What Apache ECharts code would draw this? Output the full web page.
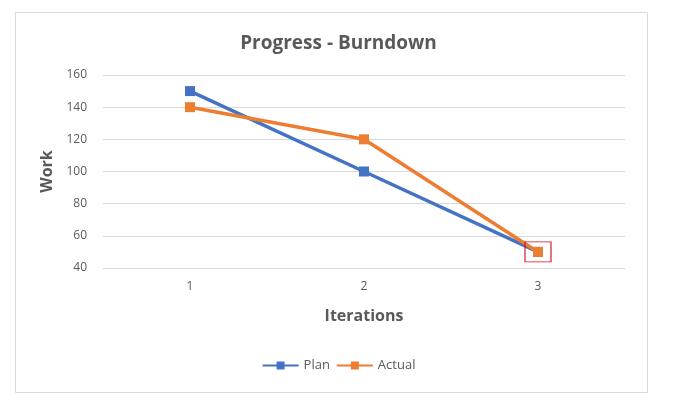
<!DOCTYPE html>
<html>
<head>
<meta charset="utf-8">
<script src="https://cdn.jsdelivr.net/npm/echarts@6/dist/echarts.min.js"></script>
<style>html,body{margin:0;padding:0;background:#fff}#c{width:677px;height:411px}</style>
</head>
<body>
<div id="c"></div>
<script>
var categories = ['1', '2', '3'];
var planValues = [150, 100, 50];
var actualValues = [140, 120, 50];
var highlightPoint = ['3', 50];

var chart = echarts.init(document.getElementById('c'));
var font = "'Open Sans', 'Noto Sans', sans-serif";
chart.setOption({
  animation: false,
  backgroundColor: '#fff',
  graphic: [{
    type: 'rect', left: 13, top: 10,
    shape: { width: 632, height: 380 },
    style: { fill: 'none', stroke: '#d9d9d9', lineWidth: 1 }
  }],
  title: {
    text: 'Progress - Burndown', left: 'center', top: 29,
    textStyle: { fontFamily: font, fontSize: 19, fontWeight: 'bold', color: '#595959' }
  },
  legend: {
    bottom: 34, left: 'center', itemWidth: 36, itemHeight: 10, itemGap: 6,
    textStyle: { fontFamily: font, fontSize: 13, color: '#595959' },
    data: ['Plan', 'Actual']
  },
  grid: { left: 103, right: 52, top: 75, bottom: 143 },
  xAxis: {
    type: 'category', data: categories,
    name: 'Iterations', nameLocation: 'middle', nameGap: 40,
    nameTextStyle: { fontFamily: font, fontSize: 16, fontWeight: 'bold', color: '#595959' },
    axisLine: { show: true, lineStyle: { color: '#d9d9d9' } },
    axisTick: { show: false },
    axisLabel: { fontFamily: font, fontSize: 12, color: '#595959', margin: 13 }
  },
  yAxis: {
    type: 'value', min: 40, max: 160, interval: 20,
    name: 'Work', nameLocation: 'middle', nameGap: 47,
    nameTextStyle: { fontFamily: font, fontSize: 16, fontWeight: 'bold', color: '#595959' },
    axisLine: { show: false }, axisTick: { show: false },
    splitLine: { lineStyle: { color: '#d9d9d9' } },
    axisLabel: { fontFamily: font, fontSize: 12, color: '#595959', margin: 16 }
  },
  series: [{
    name: 'Plan', type: 'line', data: planValues,
    symbol: 'rect', symbolSize: 10,
    lineStyle: { width: 3.5, color: '#4472C4' },
    itemStyle: { color: '#4472C4' }
  }, {
    name: 'Actual', type: 'line', data: actualValues,
    symbol: 'rect', symbolSize: 10,
    lineStyle: { width: 3.5, color: '#ED7D31' },
    itemStyle: { color: '#ED7D31' },
    markPoint: {
      silent: true,
      symbol: 'rect', symbolSize: [26, 20],
      label: { show: false },
      itemStyle: { color: 'rgba(0,0,0,0)', borderColor: '#d0101a', borderWidth: 1 },
      data: [{ coord: highlightPoint }]
    }
  }]
});
</script>
</body>
</html>
